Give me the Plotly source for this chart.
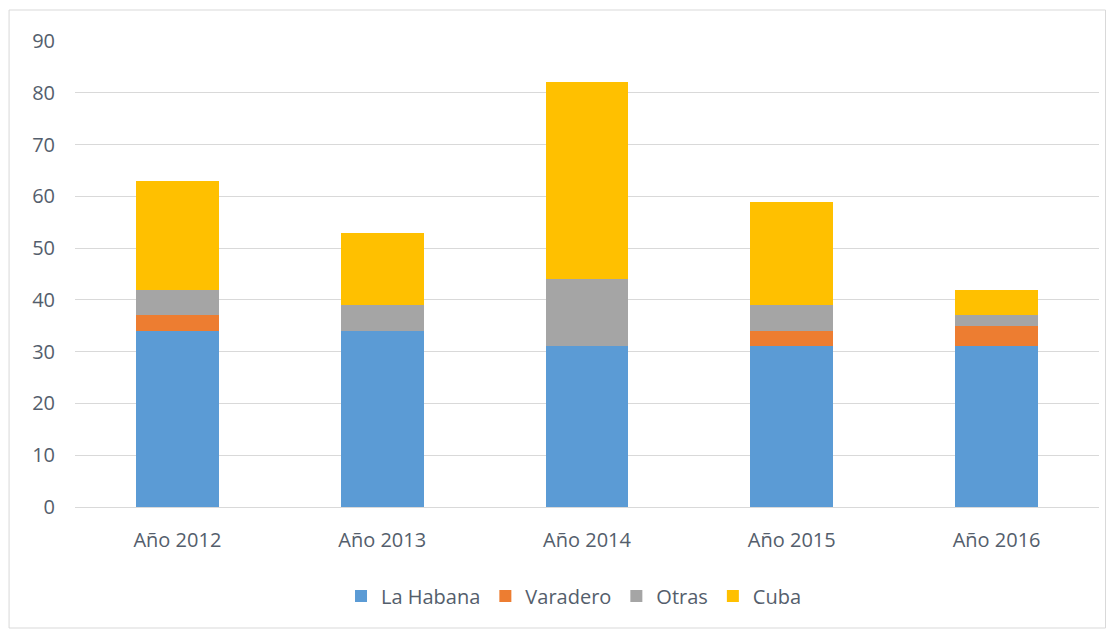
import plotly.graph_objects as go

categories = ["Año 2012", "Año 2013", "Año 2014", "Año 2015", "Año 2016"]
la_habana = [34, 34, 31, 31, 31]
varadero = [3, 0, 0, 3, 4]
otras = [5, 5, 13, 5, 2]
cuba = [21, 14, 38, 20, 5]

series = [
    ("La Habana", la_habana, "#5B9BD5"),
    ("Varadero", varadero, "#ED7D31"),
    ("Otras", otras, "#A5A5A5"),
    ("Cuba", cuba, "#FFC000"),
]

fig = go.Figure()
for name, vals, color in series:
    fig.add_trace(go.Bar(
        x=categories, y=vals, name=name,
        marker=dict(color=color, line=dict(width=0)),
    ))

W, H = 1115, 629
l, r, t, b = 66.5, 23.5, 33, 130
pw, ph = W - l - r, H - t - b
txt = "#545e6c"
fnt = "Open Sans, Lato, sans-serif"
fig.update_layout(
    width=W, height=H,
    barmode="stack",
    bargap=0.595,
    plot_bgcolor="white",
    paper_bgcolor="white",
    margin=dict(l=l, r=r, t=t, b=b, autoexpand=False),
    font=dict(family=fnt, size=20, color=txt),
    xaxis=dict(
        showgrid=False, showline=False, ticks="", ticklabelstandoff=19,
        tickfont=dict(family=fnt, size=20, color=txt),
    ),
    yaxis=dict(
        range=[0, 90], dtick=10, showgrid=True, gridcolor="#D9D9D9", gridwidth=1,
        zeroline=True, zerolinecolor="#D9D9D9", zerolinewidth=1,
        showline=False, ticks="", ticklabelstandoff=19,
        tickfont=dict(family=fnt, size=20, color=txt),
    ),
    legend=dict(
        orientation="h", x=(566 - l) / pw, xanchor="center",
        y=(H - b - 588) / ph, yanchor="middle",
        traceorder="normal", font=dict(family=fnt, size=20, color=txt),
        itemwidth=30,
    ),
    shapes=[dict(
        type="rect", xref="paper", yref="paper",
        x0=(0.5 - l) / pw, x1=(1098 - l) / pw,
        y0=(H - b - 620) / ph, y1=(H - b - 2) / ph,
        line=dict(color="#D9D9D9", width=1), layer="below",
    )],
)

fig.write_html("out.html")
